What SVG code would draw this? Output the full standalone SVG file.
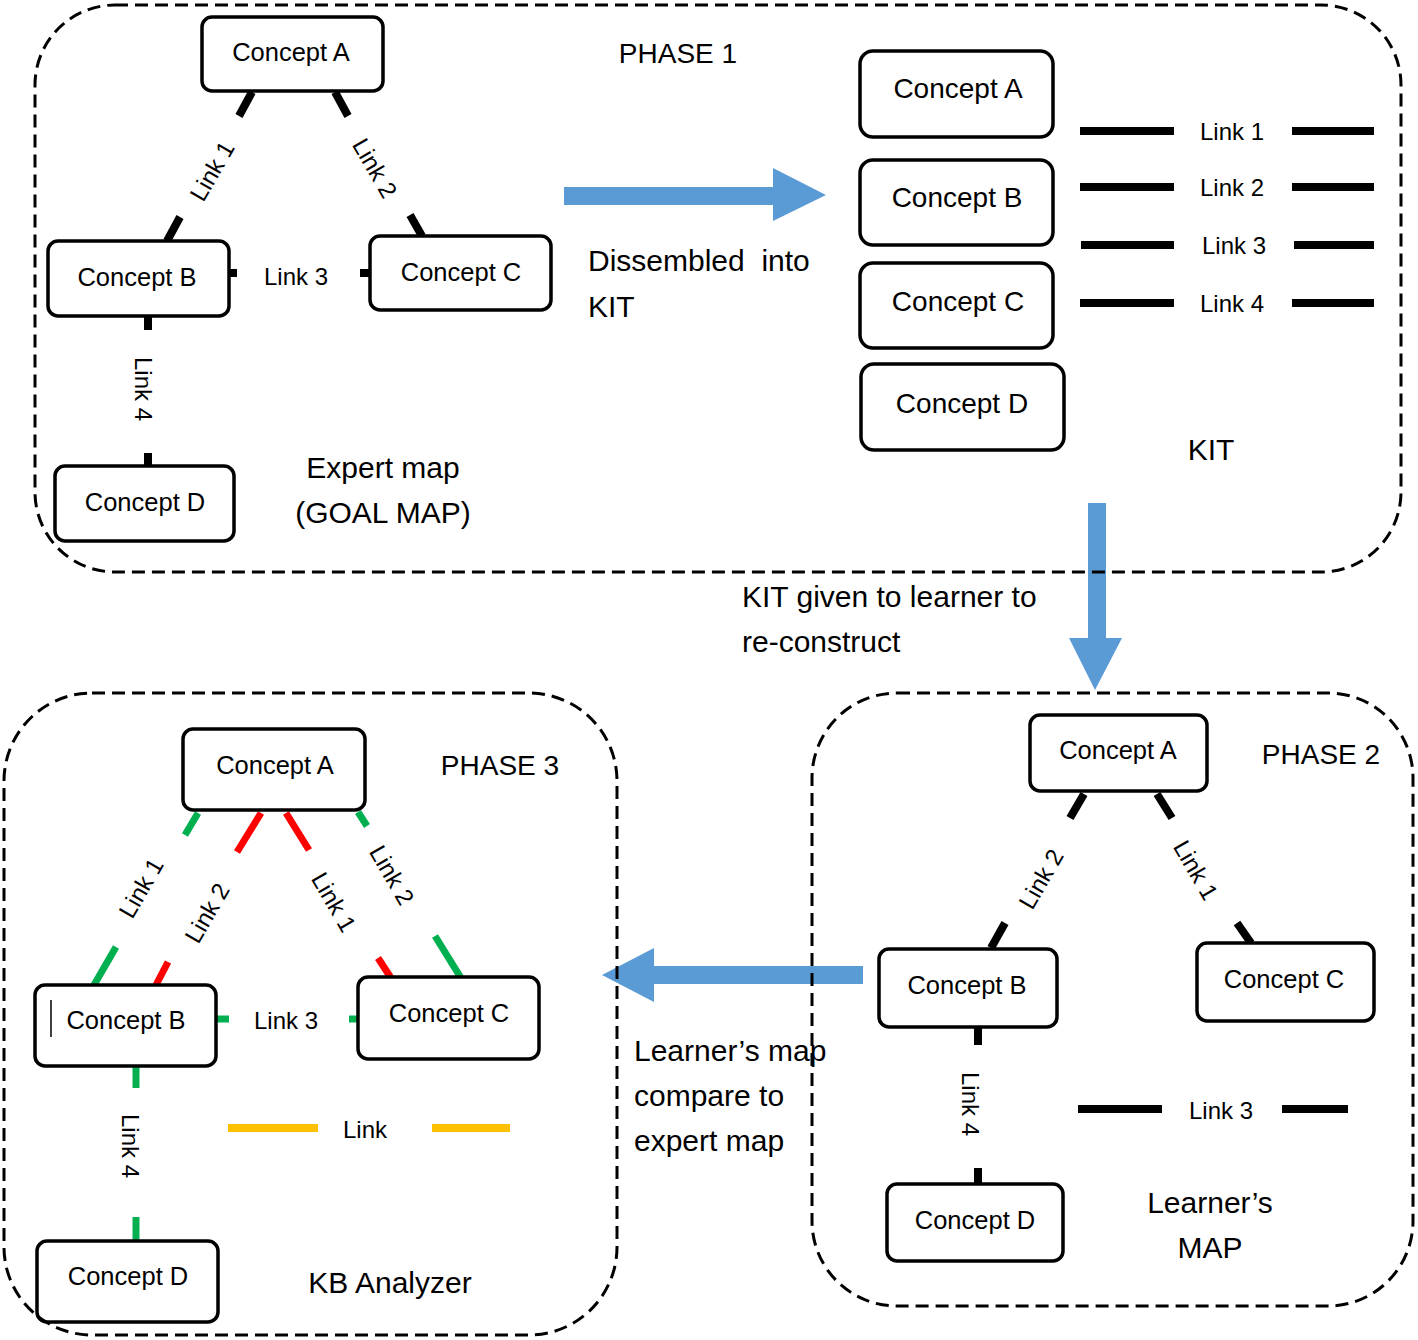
<svg xmlns="http://www.w3.org/2000/svg" width="1418" height="1340" viewBox="0 0 1418 1340">
<style>
text{font-family:"Liberation Sans",Arial,sans-serif;fill:#000;dominant-baseline:central}
.c{text-anchor:middle}
.box{fill:#fff;stroke:#000;stroke-width:3.5}
.dash{fill:none;stroke:#000;stroke-width:3;stroke-dasharray:13 7}
.k{stroke:#000;stroke-width:8;fill:none}
.g{stroke:#00B050;stroke-width:7;fill:none}
.r{stroke:#FF0000;stroke-width:7;fill:none}
.y{stroke:#FFC000;stroke-width:8;fill:none}
.arw{fill:#5B9BD5}
.n24{font-size:25.5px}
.n27{font-size:28px}
.l{font-size:24px}
.big{font-size:30px}
.ph{font-size:28px}
</style>
<rect width="1418" height="1340" fill="#fff"/>

<g id="arrows">
<polygon class="arw" points="564,187 773,187 773,168 826,195 773,221 773,205 564,205"/>
<polygon class="arw" points="1088,503 1106,503 1106,638 1122,638 1095,690 1069,638 1088,638"/>
<polygon class="arw" points="863,966 654,966 654,948 602,975 654,1002 654,984 863,984"/>
</g>

<g id="connectors">
<!-- phase 1 expert map -->
<line class="k" x1="252" y1="92" x2="239" y2="116"/>
<line class="k" x1="180" y1="217" x2="167" y2="241"/>
<text class="l c" transform="rotate(-60 212 171)" x="212" y="171">Link 1</text>
<line class="k" x1="335" y1="92" x2="348" y2="116"/>
<line class="k" x1="410" y1="215" x2="422" y2="236"/>
<text class="l c" transform="rotate(60 375 168)" x="375" y="168">Link 2</text>
<line class="k" x1="229" y1="273" x2="237" y2="273"/>
<line class="k" x1="360" y1="273" x2="369" y2="273"/>
<text class="l c" x="296" y="276">Link 3</text>
<line class="k" x1="148" y1="317" x2="148" y2="330"/>
<line class="k" x1="148" y1="453" x2="148" y2="466"/>
<text class="l c" transform="rotate(90 143 389)" x="143" y="389">Link 4</text>
<!-- KIT links -->
<line class="k" x1="1080" y1="131" x2="1174" y2="131"/>
<line class="k" x1="1292" y1="131" x2="1374" y2="131"/>
<text class="l c" x="1232" y="131">Link 1</text>
<line class="k" x1="1080" y1="187" x2="1174" y2="187"/>
<line class="k" x1="1292" y1="187" x2="1374" y2="187"/>
<text class="l c" x="1232" y="187">Link 2</text>
<line class="k" x1="1081" y1="245" x2="1174" y2="245"/>
<line class="k" x1="1294" y1="245" x2="1374" y2="245"/>
<text class="l c" x="1234" y="245">Link 3</text>
<line class="k" x1="1080" y1="303" x2="1174" y2="303"/>
<line class="k" x1="1292" y1="303" x2="1374" y2="303"/>
<text class="l c" x="1232" y="303">Link 4</text>
<!-- phase 2 learner map -->
<line class="k" x1="1084" y1="794" x2="1070" y2="818"/>
<line class="k" x1="1005" y1="923" x2="991" y2="948"/>
<text class="l c" transform="rotate(-60 1041 879)" x="1041" y="879">Link 2</text>
<line class="k" x1="1157" y1="794" x2="1172" y2="818"/>
<line class="k" x1="1237" y1="923" x2="1251" y2="943"/>
<text class="l c" transform="rotate(60 1196 870)" x="1196" y="870">Link 1</text>
<line class="k" x1="978" y1="1027" x2="978" y2="1045"/>
<line class="k" x1="978" y1="1168" x2="978" y2="1184"/>
<text class="l c" transform="rotate(90 970 1104)" x="970" y="1104">Link 4</text>
<line class="k" x1="1078" y1="1109" x2="1162" y2="1109"/>
<line class="k" x1="1282" y1="1109" x2="1348" y2="1109"/>
<text class="l c" x="1221" y="1110">Link 3</text>
<!-- phase 3 analyzer -->
<line class="g" x1="198" y1="813" x2="185" y2="835"/>
<line class="g" x1="116" y1="947" x2="94" y2="985"/>
<text class="l c" transform="rotate(-60 141 888)" x="141" y="888">Link 1</text>
<line class="r" x1="261" y1="813" x2="237" y2="852"/>
<line class="r" x1="168" y1="962" x2="156" y2="985"/>
<text class="l c" transform="rotate(-60 207 913)" x="207" y="913">Link 2</text>
<line class="r" x1="286" y1="813" x2="309" y2="850"/>
<line class="r" x1="378" y1="958" x2="391" y2="978"/>
<text class="l c" transform="rotate(60 334 902)" x="334" y="902">Link 1</text>
<line class="g" x1="358" y1="812" x2="367" y2="826"/>
<line class="g" x1="435" y1="936" x2="461" y2="978"/>
<text class="l c" transform="rotate(60 392 875)" x="392" y="875">Link 2</text>
<line class="g" x1="216" y1="1019" x2="229" y2="1019"/>
<line class="g" x1="349" y1="1019" x2="358" y2="1019"/>
<text class="l c" x="286" y="1020">Link 3</text>
<line class="g" x1="136" y1="1066" x2="136" y2="1088"/>
<line class="g" x1="136" y1="1217" x2="136" y2="1241"/>
<text class="l c" transform="rotate(90 130 1146)" x="130" y="1146">Link 4</text>
<line class="y" x1="228" y1="1128" x2="318" y2="1128"/>
<line class="y" x1="432" y1="1128" x2="510" y2="1128"/>
<text class="l c" x="365" y="1129">Link</text>
</g>

<g id="p1-expert">
<g id="p1-A"><rect class="box" x="202" y="17" width="181" height="74" rx="10"/><text class="n24 c" x="291" y="52">Concept A</text></g>
<g id="p1-B"><rect class="box" x="48" y="241" width="181" height="75" rx="10"/><text class="n24 c" x="137" y="277">Concept B</text></g>
<g id="p1-C"><rect class="box" x="370" y="236" width="181" height="74" rx="10"/><text class="n24 c" x="461" y="272">Concept C</text></g>
<g id="p1-D"><rect class="box" x="55" y="466" width="179" height="75" rx="10"/><text class="n24 c" x="145" y="502">Concept D</text></g>
</g>

<g id="p1-kit">
<g id="kit-A"><rect class="box" x="860" y="51" width="193" height="86" rx="13"/><text class="n27 c" x="958" y="88">Concept A</text></g>
<g id="kit-B"><rect class="box" x="860" y="160" width="193" height="85" rx="13"/><text class="n27 c" x="957" y="197">Concept B</text></g>
<g id="kit-C"><rect class="box" x="860" y="263" width="193" height="85" rx="13"/><text class="n27 c" x="958" y="301">Concept C</text></g>
<g id="kit-D"><rect class="box" x="861" y="364" width="203" height="86" rx="13"/><text class="n27 c" x="962" y="403">Concept D</text></g>
</g>

<g id="p2-learner">
<g id="p2-A"><rect class="box" x="1030" y="715" width="177" height="76" rx="10"/><text class="n24 c" x="1118" y="750">Concept A</text></g>
<g id="p2-B"><rect class="box" x="879" y="949" width="178" height="78" rx="10"/><text class="n24 c" x="967" y="985">Concept B</text></g>
<g id="p2-C"><rect class="box" x="1197" y="943" width="177" height="78" rx="10"/><text class="n24 c" x="1284" y="979">Concept C</text></g>
<g id="p2-D"><rect class="box" x="887" y="1184" width="176" height="77" rx="10"/><text class="n24 c" x="975" y="1220">Concept D</text></g>
</g>

<g id="p3-analyzer">
<g id="p3-A"><rect class="box" x="183" y="729" width="182" height="81" rx="10"/><text class="n24 c" x="275" y="765">Concept A</text></g>
<g id="p3-B"><rect class="box" x="35" y="985" width="181" height="81" rx="10"/><line x1="51" y1="1000" x2="51" y2="1037" stroke="#000" stroke-width="1.5"/><text class="n24 c" x="126" y="1020">Concept B</text></g>
<g id="p3-C"><rect class="box" x="358" y="977" width="181" height="82" rx="10"/><text class="n24 c" x="449" y="1013">Concept C</text></g>
<g id="p3-D"><rect class="box" x="37" y="1241" width="181" height="81" rx="10"/><text class="n24 c" x="128" y="1276">Concept D</text></g>
</g>

<g id="labels">
<text class="ph c" x="678" y="53">PHASE 1</text>
<text class="big c" x="383" y="467">Expert map</text>
<text class="big c" x="383" y="512">(GOAL MAP)</text>
<text class="big" x="588" y="260" xml:space="preserve">Dissembled  into</text>
<text class="big" x="588" y="306">KIT</text>
<text class="big c" x="1211" y="449">KIT</text>
<text class="big" x="742" y="596">KIT given to learner to</text>
<text class="big" x="742" y="641">re-construct</text>
<text class="ph c" x="1321" y="754">PHASE 2</text>
<text class="big c" x="1210" y="1202">Learner’s</text>
<text class="big c" x="1210" y="1247">MAP</text>
<text class="ph c" x="500" y="765">PHASE 3</text>
<text class="big c" x="390" y="1282">KB Analyzer</text>
<text class="big" x="634" y="1050">Learner’s map</text>
<text class="big" x="634" y="1095">compare to</text>
<text class="big" x="634" y="1140">expert map</text>
</g>

<g id="phases">
<rect id="phase1" class="dash" x="35" y="5" width="1366" height="567" rx="80"/>
<rect id="phase2" class="dash" x="812" y="693" width="601" height="613" rx="85"/>
<rect id="phase3" class="dash" x="4" y="693" width="613" height="642" rx="88"/>
</g>
</svg>
